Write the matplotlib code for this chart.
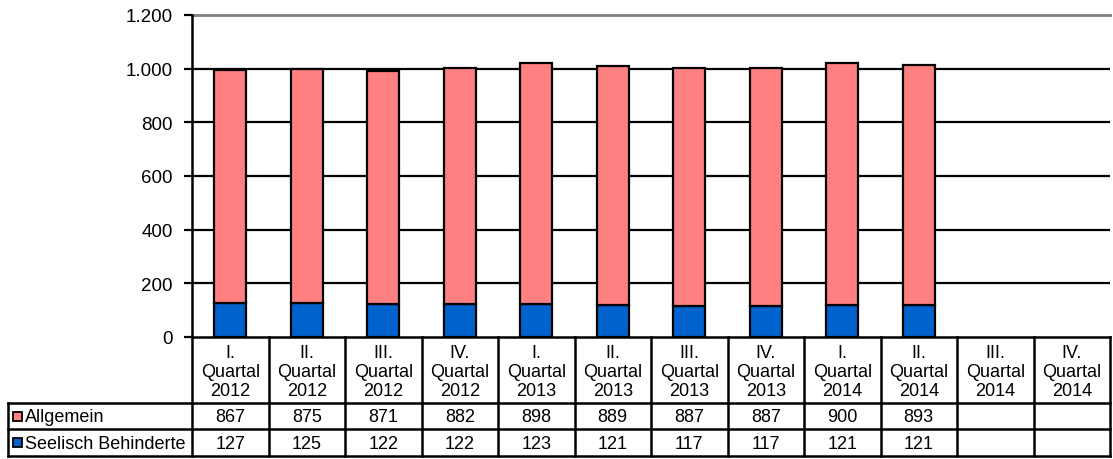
import matplotlib
matplotlib.use("Agg")
import matplotlib.pyplot as plt
from matplotlib.patches import Rectangle

plt.rcParams['font.family'] = ['Liberation Sans', 'DejaVu Sans']

# Data
quarters = ["I.", "II.", "III.", "IV.", "I.", "II.", "III.", "IV.", "I.", "II.", "III.", "IV."]
years = ["2012"] * 4 + ["2013"] * 4 + ["2014"] * 4
allgemein = [867, 875, 871, 882, 898, 889, 887, 887, 900, 893, None, None]
seelisch = [127, 125, 122, 122, 123, 121, 117, 117, 121, 121, None, None]
series_names = ["Allgemein", "Seelisch Behinderte"]
yticks = [0, 200, 400, 600, 800, 1000, 1200]
ytick_labels = ["0", "200", "400", "600", "800", "1.000", "1.200"]

col_pink = "#FF8080"
col_blue = "#0062CC"

W, H = 1113, 460
fig = plt.figure(figsize=(W / 100, H / 100), dpi=100)

def fx(px):
    return px / W

def fy(py):
    return 1 - py / H

left_px, right_px = 192, 1110
top_px, zero_px, bottom_px = 16, 338, 458
label_left_px = 8

ax = fig.add_axes([fx(left_px), fy(zero_px), fx(right_px - left_px), (zero_px - top_px) / H])
n = len(quarters)
x = list(range(n))
ax.set_xlim(-0.5, n - 0.5)
ax.set_ylim(0, 1200)

bw = 0.42
for i in x:
    if allgemein[i] is None:
        continue
    ax.bar(i, seelisch[i], width=bw, color=col_blue, edgecolor="black", linewidth=1.6, zorder=3)
    ax.bar(i, allgemein[i], bottom=seelisch[i], width=bw, color=col_pink,
           edgecolor="black", linewidth=1.6, zorder=3)

for v in yticks[1:-1]:
    ax.axhline(v, color="black", linewidth=1.6, zorder=1)
ax.axhline(1200, color="#808080", linewidth=2.0, zorder=1, clip_on=False)

for s in ["top", "right", "bottom"]:
    ax.spines[s].set_visible(False)
ax.spines["left"].set_linewidth(1.8)
ax.set_xticks([])
ax.set_yticks(yticks)
ax.set_yticklabels(ytick_labels, fontsize=13.5)
ax.tick_params(axis="y", length=6, width=1.6, pad=8)

# Data table below the plot
tax = fig.add_axes([fx(left_px), fy(bottom_px), fx(right_px - left_px), (bottom_px - zero_px) / H])
tax.set_xlim(-0.5, n - 0.5)
tax.set_ylim(bottom_px - zero_px, 0)
tax.axis("off")

col_w = (right_px - left_px) / n
lab_x = -0.5 - (left_px - label_left_px) / col_w
r1, r2, r3 = 0, 66, 92
r4 = bottom_px - zero_px - 1
lw = 1.8
kw = dict(color="black", linewidth=lw, clip_on=False, solid_capstyle="projecting")

# horizontal lines
tax.plot([-0.5, n - 0.5], [r1, r1], **kw)
tax.plot([lab_x, n - 0.5], [r2, r2], **kw)
tax.plot([lab_x, n - 0.5], [r3, r3], **kw)
tax.plot([lab_x, n - 0.5], [r4, r4], **kw)
# vertical lines
for k in range(n + 1):
    tax.plot([k - 0.5, k - 0.5], [r1, r4], **kw)
tax.plot([lab_x, lab_x], [r2, r4], **kw)

fs = 13
for i in x:
    tax.text(i, (r1 + r2) / 2 + 1.5, f"{quarters[i]}\nQuartal\n{years[i]}", ha="center", va="center",
             fontsize=fs, linespacing=1.12)
    if allgemein[i] is not None:
        tax.text(i, (r2 + r3) / 2 + 1, str(allgemein[i]), ha="center", va="center", fontsize=fs)
        tax.text(i, (r3 + r4) / 2 + 1, str(seelisch[i]), ha="center", va="center", fontsize=fs)

# row labels with legend keys
key_w = 9 / col_w
for name, col, (ya, yb) in zip(series_names, [col_pink, col_blue], [(r2, r3), (r3, r4)]):
    yc = (ya + yb) / 2
    kx = lab_x + 5 / col_w
    tax.add_patch(Rectangle((kx, yc - 4.5), key_w, 9, facecolor=col, edgecolor="black",
                            linewidth=1.3, clip_on=False))
    tax.text(kx + key_w + 3 / col_w, yc + 1, name, ha="left", va="center", fontsize=fs, clip_on=False)

fig.savefig("out.png", dpi=100)
